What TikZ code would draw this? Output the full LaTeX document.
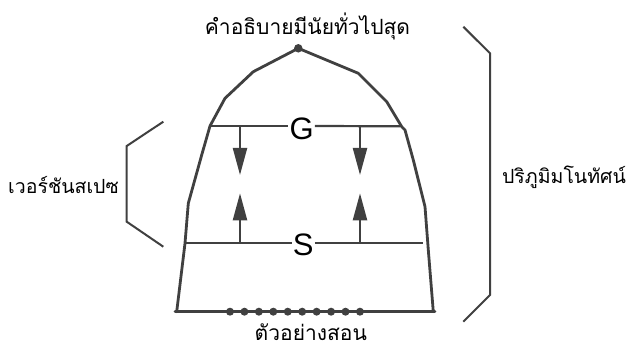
\documentclass[tikz,border=0pt]{standalone}
\usepackage{fontspec}
\setmainfont{Liberation Sans}
\newfontfamily\thaifont[Script=Thai]{Loma}
\usetikzlibrary{arrows.meta}
\definecolor{ink}{HTML}{404040}
\tikzset{
  hull/.style={draw=ink, line width=2.8pt, line join=round, line cap=round},
  brace/.style={draw=ink, line width=2pt, line join=miter},
  bound/.style={draw=ink, line width=2.2pt},
  mover/.style={draw=ink, line width=2.2pt, -{Triangle[length=27pt,width=14pt]}, fill=ink},
  letter/.style={font=\fontsize{31}{31}\selectfont, inner sep=1pt},
  thai/.style={font=\thaifont\fontsize{21}{23}\selectfont, inner sep=0pt, anchor=base},
  thaismall/.style={thai, font=\thaifont\fontsize{19.5}{22}\selectfont},
  dot/.style={circle, fill=ink, inner sep=0pt, minimum size=8pt},
}
\begin{document}
\begin{tikzpicture}[x=1pt,y=-1pt]
\useasboundingbox (0,0) rectangle (629,347);
% hull points
\coordinate (a1) at (210,126);
\coordinate (a2) at (225,98.3);
\coordinate (a3) at (253.3,71.7);
\node[dot, minimum size=8.5pt] (top) at (298.3,48.3) {};
\coordinate (b3) at (358.3,73.3);
\coordinate (b2) at (386.7,101.7);
\coordinate (b1) at (401.7,126.7);
\coordinate (l1) at (201.7,155);
\coordinate (l2) at (188.3,203.3);
\coordinate (l3) at (185,243.3);
\coordinate (l4) at (176.7,311.7);
\coordinate (r1) at (405,130);
\coordinate (r2) at (413.3,160);
\coordinate (r3) at (425,206.7);
\coordinate (r4) at (428.3,250);
\coordinate (r5) at (433.3,311.7);
\coordinate (s0) at (423.3,243.3);
\coordinate (g0) at (400,126.3);
\coordinate (bl) at (175,311.7);
\coordinate (br) at (435,311.7);

\draw[hull] (a1) -- (a2) -- (a3) -- (top.center) -- (b3) -- (b2) -- (b1) -- (r1) -- (r2) -- (r3) -- (r4) -- (r5);
\draw[hull] (a1) -- (l1) -- (l2) -- (l3) -- (l4);
\draw[hull] (bl) -- (br);

% G and S boundaries
\node[letter] (G) at (301.7,129) {G};
\node[letter] (S) at (303.3,244.5) {S};
\draw[bound] (a1) -- (G.west |- a1);
\draw[bound] (G.east |- a1) -- (g0);
\draw[bound] (l3) -- (S.west |- l3);
\draw[bound] (S.east |- l3) -- (s0);

% arrows
\coordinate (gd1) at (240,126);
\coordinate (gd2) at (360,126);
\coordinate (gt1) at (240,175);
\coordinate (gt2) at (360,175);
\coordinate (su1) at (240,243.3);
\coordinate (su2) at (360,243.3);
\coordinate (st1) at (240,193.3);
\coordinate (st2) at (360,193.3);
\draw[mover] (gd1) -- (gt1);
\draw[mover] (gd2) -- (gt2);
\draw[mover] (su1) -- (st1);
\draw[mover] (su2) -- (st2);

% training examples
\foreach \i in {0,...,9} {
  \node[dot] (e\i) at ({230+14.44*\i},311.7) {};
}

% brackets
\coordinate (p1) at (163.3,121.7);
\coordinate (p2) at (126.7,146);
\coordinate (p3) at (126.7,221.7);
\coordinate (p4) at (163.3,246.7);
\draw[brace] (p1) -- (p2) -- (p3) -- (p4);
\coordinate (q1) at (463.3,26.7);
\coordinate (q2) at (490,53.3);
\coordinate (q3) at (490,295);
\coordinate (q4) at (463.3,321.7);
\draw[brace] (q1) -- (q2) -- (q3) -- (q4);

% labels
\node[thai] (lt) at (307.5,35) {คำอธิบายมีนัยทั่วไปสุด};
\node[thai, text depth=1pt] (lb) at (310.8,340) {ตัวอย่างสอน};
\node[thaismall] (ll) at (63.5,193.3) {เวอร์ชันสเปซ};
\node[thaismall] (lr) at (564,183.3) {ปริภูมิมโนทัศน์};
\end{tikzpicture}
\end{document}
